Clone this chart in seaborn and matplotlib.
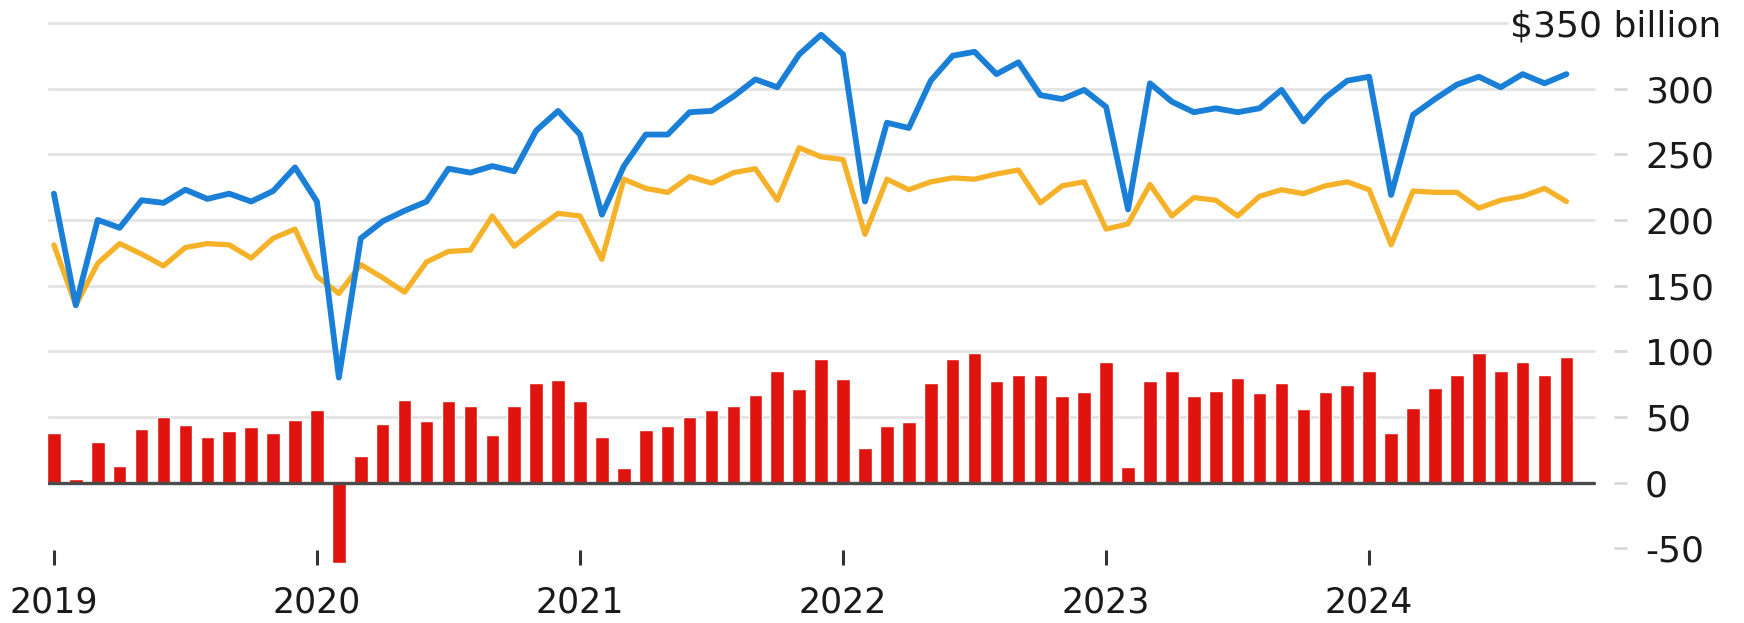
import pandas as pd
import matplotlib.pyplot as plt
import seaborn as sns

# monthly values, Jan 2019 .. Oct 2024, $ billion
exports = [220, 135, 200, 194, 215, 213, 223, 216, 220, 214, 222, 240,
           214, 80, 186, 199, 207, 214, 239, 236, 241, 237, 268, 283,
           265, 204, 241, 265, 265, 282, 283, 294, 307, 301, 326, 341,
           326, 214, 274, 270, 306, 325, 328, 311, 320, 295, 292, 299,
           286, 208, 304, 290, 282, 285, 282, 285, 299, 275, 293, 306,
           309, 219, 280, 292, 303, 309, 301, 311, 304, 311]
imports = [181, 135, 167, 182, 174, 165, 179, 182, 181, 171, 186, 193,
           157, 144, 166, 156, 145, 168, 176, 177, 203, 180, 193, 205,
           203, 170, 231, 224, 221, 233, 228, 236, 239, 215, 255, 248,
           246, 189, 231, 223, 229, 232, 231, 235, 238, 213, 226, 229,
           193, 197, 227, 203, 217, 215, 203, 218, 223, 220, 226, 229,
           223, 181, 222, 221, 221, 209, 215, 218, 224, 214]
balance = [38, 3, 31, 13, 41, 50, 44, 35, 39, 42, 38, 48,
           55, -61, 20, 45, 63, 47, 62, 58, 36, 58, 76, 78,
           62, 35, 11, 40, 43, 50, 55, 58, 67, 85, 71, 94,
           79, 26, 43, 46, 76, 94, 99, 77, 82, 82, 66, 69,
           92, 12, 77, 85, 66, 70, 80, 68, 76, 56, 69, 74,
           85, 38, 57, 72, 82, 99, 85, 92, 82, 96]
years = ["2019", "2020", "2021", "2022", "2023", "2024"]
y_ticks = [-50, 0, 50, 100, 150, 200, 250, 300]

df = pd.DataFrame({"month": range(len(exports)), "exports": exports,
                   "imports": imports, "balance": balance})

sns.set_style("white")
plt.rcParams["font.family"] = ["DejaVu Sans"]

fig = plt.figure(figsize=(17.44, 6.23), dpi=100)
ax = fig.add_axes([0.0275, 0.0931, 0.9054, 0.8828])

# grid lines stop short of the right-hand tick dashes
for v in [50, 100, 150, 200, 250, 300]:
    ax.axhline(v, xmin=0, xmax=0.979, color="#e3e3e3", lw=2, zorder=0)
ax.axhline(350, xmin=0, xmax=0.924, color="#e3e3e3", lw=2, zorder=0)

sns.barplot(data=df, x="month", y="balance", color="#e0140f", width=0.62,
            native_scale=True, errorbar=None, saturation=1, ax=ax, zorder=2)
ax.axhline(0, xmin=0, xmax=0.979, color="#4a4a4a", lw=2.4, zorder=3)

sns.lineplot(data=df, x="month", y="imports", color="#f5b228", lw=3.8, ax=ax, zorder=4)
sns.lineplot(data=df, x="month", y="exports", color="#1a7fd6", lw=4.2, ax=ax, zorder=5)

ax.set_xlim(-0.27, 71.76)
ax.set_ylim(-62.7, 356)

ax.set_xticks([12 * k for k in range(len(years))], labels=years)
ax.yaxis.tick_right()
ax.set_yticks(y_ticks, labels=[str(v) for v in y_ticks])
ax.tick_params(axis="x", bottom=True, direction="in", length=10.8, width=2.2,
               color="#333333", pad=15, labelsize=25, labelcolor="#1a1a1a")
ax.tick_params(axis="y", right=True, direction="in", length=9.4, width=2,
               color="#d8d8d8", pad=13, labelsize=26, labelcolor="#1a1a1a")
ax.set_xlabel("")
ax.set_ylabel("")
for s in ax.spines.values():
    s.set_visible(False)

fig.text(1721 / 1744, (623 - 23.3) / 623, "$350 billion", ha="right",
         va="center_baseline", fontsize=26, color="#1a1a1a")

fig.savefig("out.png", dpi=100)
